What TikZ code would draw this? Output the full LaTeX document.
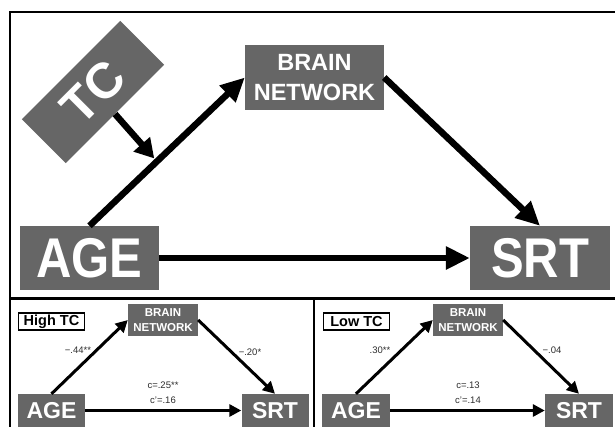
\documentclass[tikz,border=0pt]{standalone}
\usepackage{fontspec}
\usepackage{graphicx}
\setmainfont{Liberation Sans}
\usetikzlibrary{arrows.meta,calc}
\definecolor{boxgray}{RGB}{102,102,102}
\definecolor{labgray}{RGB}{45,45,45}
\newcommand{\condensed}[1]{\scalebox{0.875}[1]{#1}}
\begin{document}
\begin{tikzpicture}[x=1pt,y=-1pt,
  bigbox/.style={fill=boxgray,text=white,inner sep=0pt,font=\bfseries\fontsize{56}{56}\selectfont,minimum width=139pt,minimum height=64pt},
  tcbox/.style={fill=boxgray,text=white,inner sep=0pt,font=\bfseries\fontsize{50}{50}\selectfont,minimum width=139pt,minimum height=62pt},
  midbox/.style={fill=boxgray,text=white,inner sep=0pt,align=center,font=\bfseries\fontsize{23.5}{30}\selectfont,minimum width=139pt,minimum height=65pt},
  smallbox/.style={fill=boxgray,text=white,inner sep=0pt,font=\bfseries\fontsize{23}{23}\selectfont,minimum width=67pt,minimum height=33pt},
  smallbrain/.style={fill=boxgray,text=white,inner sep=0pt,align=center,font=\bfseries\fontsize{11.5}{15}\selectfont,minimum width=70pt,minimum height=32pt},
  tagbox/.style={draw=black,line width=1.4pt,fill=white,inner sep=0pt,font=\bfseries\fontsize{14.5}{14.5}\selectfont,minimum width=66pt,minimum height=17pt},
  coef/.style={text=labgray,inner sep=0pt,font=\fontsize{9.5}{11}\selectfont},
  bigarrow/.style={line width=6.5pt,-{Triangle[length=24pt,width=22pt]}},
  tcarrow/.style={line width=6.5pt,-{Triangle[length=19pt,width=21pt]}},
  smallarrow/.style={line width=3pt,-{Triangle[length=12pt,width=12pt]}},
  frameline/.style={line width=2pt,black}
]
\useasboundingbox (0,0) rectangle (615,426);
\clip (0,0) rectangle (615,426);
% frame
\draw[frameline] (10,440) -- (10,12) -- (630,12);
\draw[frameline,line width=2.6pt] (10,298.5) -- (630,298.5);
\draw[frameline] (314,298.5) -- (314,440);
% top panel
\node[midbox] (brain) at (314.5,77.5) {BRAIN\\NETWORK};
\node[bigbox] (age) at (89.5,258) {\condensed{AGE}};
\node[bigbox,minimum width=140pt] (srt) at (540,258) {\condensed{SRT}};
\node[tcbox,rotate=45] (tc) at (93,92) {TC};
\draw[bigarrow] (age.north) -- (brain.west);
\draw[bigarrow] (brain.east) -- (srt.north);
\draw[bigarrow] (age.east) -- (srt.west);
\coordinate (mod) at ($(age.north)!0.434!(brain.west)$);
\draw[tcarrow,shorten >=4pt] (tc.south) -- (mod);
% bottom left panel
\node[tagbox] (high) at (51.5,321.5) {High TC};
\node[smallbrain] (brainL) at (163,320) {BRAIN\\NETWORK};
\node[smallbox] (ageL) at (51.5,410.5) {AGE};
\node[smallbox] (srtL) at (275,410.5) {SRT};
\draw[smallarrow] (ageL.north) -- (brainL.west);
\draw[smallarrow] (brainL.east) -- (srtL.north);
\draw[smallarrow] (ageL.east) -- (srtL.west);
\node[coef] (aL) at (78,350) {−.44**};
\node[coef] (bL) at (250,352) {−.20*};
\node[coef] (cL) at (163,385) {c=.25**};
\node[coef] (dL) at (163,400) {c’=.16};
% bottom right panel
\node[tagbox] (low) at (356.5,321.5) {Low TC};
\node[smallbrain] (brainR) at (468,320) {BRAIN\\NETWORK};
\node[smallbox,minimum width=68pt] (ageR) at (356,410.5) {AGE};
\node[smallbox,minimum width=68pt] (srtR) at (579,410.5) {SRT};
\draw[smallarrow] (ageR.north) -- (brainR.west);
\draw[smallarrow] (brainR.east) -- (srtR.north);
\draw[smallarrow] (ageR.east) -- (srtR.west);
\node[coef] (aR) at (380,350) {.30**};
\node[coef] (bR) at (552,350) {−.04};
\node[coef] (cR) at (468,385) {c=.13};
\node[coef] (dR) at (468,400) {c’=.14};
\end{tikzpicture}
\end{document}
